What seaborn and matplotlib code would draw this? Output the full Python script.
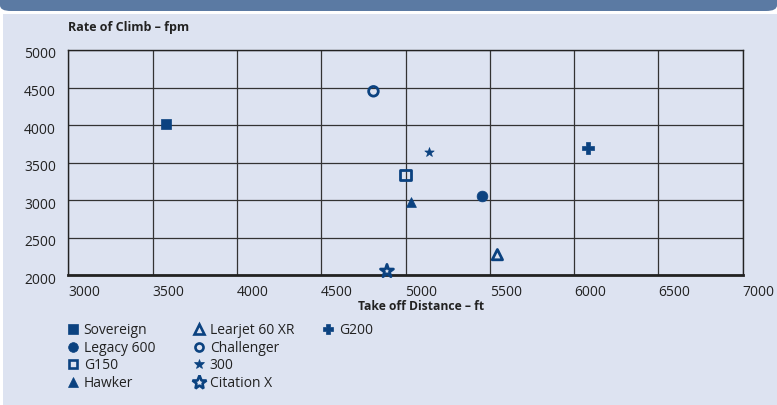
import matplotlib
matplotlib.use("Agg")
import matplotlib.pyplot as plt
from matplotlib.patches import Rectangle, FancyBboxPatch
from matplotlib.lines import Line2D
from matplotlib.transforms import ScaledTranslation
import seaborn as sns

# ---- data ----
aircraft = ["Sovereign", "Legacy 600", "G150", "Hawker",
            "Learjet 60 XR", "Challenger", "300", "Citation X", "G200"]
takeoff_ft = [3580, 5455, 5000, 5030, 5545, 4810, 5140, 4890, 6080]
climb_fpm = [4020, 3050, 3340, 2980, 2275, 4450, 3640, 2055, 3695]
x_ticks = [3000, 3500, 4000, 4500, 5000, 5500, 6000, 6500, 7000]
y_ticks = [2000, 2500, 3000, 3500, 4000, 4500, 5000]

# ---- styles ----
NAVY = "#0b4280"
PANEL = "#dde3f1"
HEADER = "#5b7aa3"
TXT = "#222222"
styles = {
    "Sovereign":     dict(marker="s", s=55, filled=True,  lms=7.2),
    "Legacy 600":    dict(marker="o", s=60, filled=True,  lms=7.0),
    "G150":          dict(marker="s", s=55, filled=False, lms=6.2),
    "Hawker":        dict(marker="^", s=50, filled=True,  lms=7.0),
    "Learjet 60 XR": dict(marker="^", s=55, filled=False, lms=7.0),
    "Challenger":    dict(marker="o", s=48, filled=False, lms=5.8),
    "300":           dict(marker="*", s=50, filled=True,  lms=7.2),
    "Citation X":    dict(marker="*", s=95, filled=False, lms=10.0),
    "G200":          dict(marker="P", s=65, filled=True,  lms=7.2),
}

sns.set_theme(style="white")
plt.rcParams["font.family"] = ["Open Sans", "DejaVu Sans"]

fig = plt.figure(figsize=(7.77, 4.05), dpi=100)
fig.patch.set_facecolor("white")

# background panel and header band
fig.patches.append(Rectangle((3 / 777, -0.01), 774 / 777, 391 / 405 + 0.01,
                             transform=fig.transFigure, facecolor=PANEL,
                             edgecolor="none", zorder=-10))
fig.patches.append(FancyBboxPatch((0, 394 / 405), 1.0, 20 / 405,
                                  boxstyle="round,pad=0,rounding_size=0.014",
                                  transform=fig.transFigure, facecolor=HEADER,
                                  edgecolor="none", zorder=-10))

ax = fig.add_axes([68.3 / 777, 1 - 275.3 / 405, (742.7 - 68.3) / 777,
                   (275.3 - 50) / 405])
ax.set_facecolor(PANEL)

for name, xv, yv in zip(aircraft, takeoff_ft, climb_fpm):
    st = styles[name]
    if st["filled"]:
        sns.scatterplot(x=[xv], y=[yv], ax=ax, marker=st["marker"], s=st["s"],
                        color=NAVY, edgecolor=NAVY, linewidth=0.5,
                        legend=False, zorder=5, clip_on=False)
    else:
        sns.scatterplot(x=[xv], y=[yv], ax=ax, marker=st["marker"], s=st["s"],
                        facecolor="none", edgecolor=NAVY, linewidth=2.0,
                        legend=False, zorder=5, clip_on=False)

ax.set_xlim(x_ticks[0], x_ticks[-1])
ax.set_ylim(y_ticks[0], y_ticks[-1])
ax.set_xticks(x_ticks)
ax.set_yticks(y_ticks)
ax.set_xticklabels([str(v) for v in x_ticks], ha="left")
ax.set_yticklabels([str(v) for v in y_ticks])
ax.tick_params(axis="x", length=0, pad=7, labelsize=10, colors=TXT)
ax.tick_params(axis="y", length=0, pad=9, labelsize=10, colors=TXT)
for lab in ax.get_yticklabels():
    lab.set_transform(lab.get_transform() +
                      ScaledTranslation(0, -3 / 100, fig.dpi_scale_trans))
ax.grid(True, color="#333333", linewidth=0.9)
ax.set_axisbelow(True)
for side, sp in ax.spines.items():
    sp.set_visible(True)
    sp.set_color(TXT)
    sp.set_linewidth(1.0)
ax.spines["bottom"].set_linewidth(2.0)
ax.set_xlabel("")
ax.set_ylabel("")

fig.text(68 / 777, 1 - 28 / 405, "Rate of Climb – fpm", fontsize=9,
         fontweight="bold", ha="left", va="center", color=TXT)
fig.text(421 / 777, 1 - 306 / 405, "Take off Distance – ft", fontsize=8.7,
         fontweight="bold", ha="center", va="center", color=TXT)


# legend: three columns placed separately
def make_handle(name):
    st = styles[name]
    if st["filled"]:
        return Line2D([], [], linestyle="none", marker=st["marker"],
                      markersize=st["lms"], markerfacecolor=NAVY,
                      markeredgecolor=NAVY, markeredgewidth=0.5)
    return Line2D([], [], linestyle="none", marker=st["marker"],
                  markersize=st["lms"], markerfacecolor="none",
                  markeredgecolor=NAVY, markeredgewidth=1.9)


columns = [
    (["Sovereign", "Legacy 600", "G150", "Hawker"], 67),
    (["Learjet 60 XR", "Challenger", "300", "Citation X"], 193),
    (["G200"], 322),
]
for names, x0 in columns:
    leg = fig.legend([make_handle(n) for n in names], names, ncol=1,
                     loc="upper left",
                     bbox_to_anchor=(x0 / 777, 1 - 323 / 405),
                     frameon=False, fontsize=10, handlelength=0.9,
                     handletextpad=0.3, labelspacing=0.19,
                     borderpad=0, borderaxespad=0)
    for t in leg.get_texts():
        t.set_color(TXT)

fig.savefig("out.png", dpi=100, facecolor=fig.get_facecolor())
